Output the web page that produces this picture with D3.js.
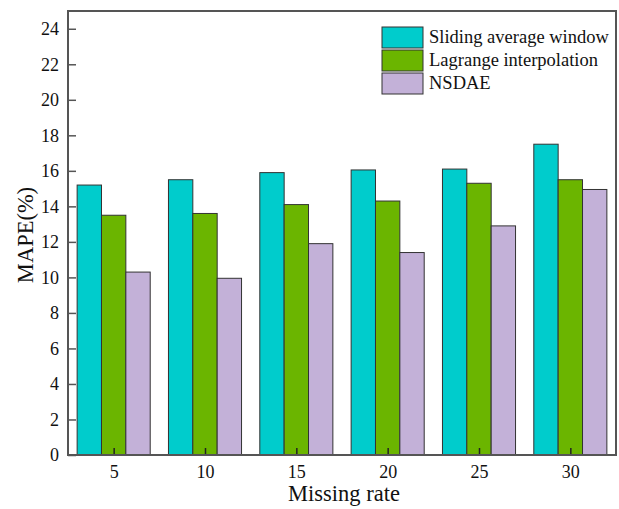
<!DOCTYPE html>
<html>
<head>
<meta charset="utf-8">
<script src="https://cdn.jsdelivr.net/npm/d3@7"></script>
<style>
  html, body { margin: 0; padding: 0; background: #fff; }
  svg { display: block; }
  text { font-family: "Liberation Serif", "Times New Roman", serif; fill: #111; }
</style>
</head>
<body>
<svg id="chart" width="619" height="509"></svg>
<script>
// Missing rates (%) on the x axis
const missingRates = [5, 10, 15, 20, 25, 30];
// MAPE (%) for each method
const slidingWindow = [15.2, 15.5, 15.9, 16.05, 16.1, 17.5];
const lagrange = [13.5, 13.6, 14.1, 14.3, 15.3, 15.5];
const nsdae = [10.3, 9.95, 11.9, 11.4, 12.9, 14.95];
const seriesNames = ["Sliding average window", "Lagrange interpolation", "NSDAE"];
const seriesColors = ["#00CCCC", "#6BB500", "#C3B1D8"];
const yTicks = [0, 2, 4, 6, 8, 10, 12, 14, 16, 18, 20, 22, 24];

const seriesValues = [slidingWindow, lagrange, nsdae];

const svg = d3.select("#chart");
const frame = { left: 68, right: 616, top: 11, bottom: 455 };

const x = d3.scaleLinear().domain([2.5, 32.5]).range([frame.left, frame.right]);
const y = d3.scaleLinear().domain([0, 25]).range([frame.bottom, frame.top]);

// each group is 4 units wide, split across the three methods
const barUnits = 4 / 3;
const barW = x(barUnits) - x(0);

const bars = svg.append("g");
seriesValues.forEach((vals, si) => {
  bars.selectAll(null)
    .data(missingRates.map((r, i) => ({ r, v: vals[i] })))
    .enter().append("rect")
    .attr("x", d => x(d.r - 2 + si * barUnits))
    .attr("y", d => y(d.v))
    .attr("width", barW)
    .attr("height", d => y(0) - y(d.v))
    .attr("fill", seriesColors[si])
    .attr("stroke", "#333")
    .attr("stroke-width", 1);
});

// axes with inward ticks
const yAxis = d3.axisLeft(y).tickValues(yTicks).tickSizeInner(-8).tickSizeOuter(0).tickPadding(9);
const gy = svg.append("g").attr("transform", `translate(${frame.left},0)`).call(yAxis);
gy.select(".domain").remove();
gy.selectAll(".tick line").attr("stroke", "#555").attr("stroke-width", 1.5);
gy.selectAll(".tick text").style("font-size", "18px").attr("fill", "#111");

const xAxis = d3.axisBottom(x).tickValues(missingRates).tickSizeInner(-7).tickSizeOuter(0).tickPadding(10);
const gx = svg.append("g").attr("transform", `translate(0,${frame.bottom})`).call(xAxis);
gx.select(".domain").remove();
gx.selectAll(".tick line").attr("stroke", "#222").attr("stroke-width", 1.5);
gx.selectAll(".tick text").style("font-size", "18px").attr("fill", "#111");

// plot frame
svg.append("rect")
  .attr("x", frame.left).attr("y", frame.top)
  .attr("width", frame.right - frame.left).attr("height", frame.bottom - frame.top)
  .attr("fill", "none").attr("stroke", "#555").attr("stroke-width", 2);

// axis titles
svg.append("text")
  .attr("x", 344).attr("y", 501)
  .attr("text-anchor", "middle").style("font-size", "22.5px")
  .text("Missing rate");
svg.append("text")
  .attr("transform", `translate(33,${(frame.top + frame.bottom) / 2 + 2}) rotate(-90)`)
  .attr("text-anchor", "middle").style("font-size", "22.5px")
  .text("MAPE(%)");

// legend
const legend = svg.append("g").attr("transform", "translate(382,27)");
seriesNames.forEach((name, i) => {
  const g = legend.append("g").attr("transform", `translate(0,${i * 23})`);
  g.append("rect").attr("width", 41).attr("height", 21)
    .attr("fill", seriesColors[i]).attr("stroke", "#333").attr("stroke-width", 1);
  g.append("text").attr("x", 47).attr("y", 16)
    .style("font-size", "18.5px").text(name);
});
</script>
</body>
</html>
